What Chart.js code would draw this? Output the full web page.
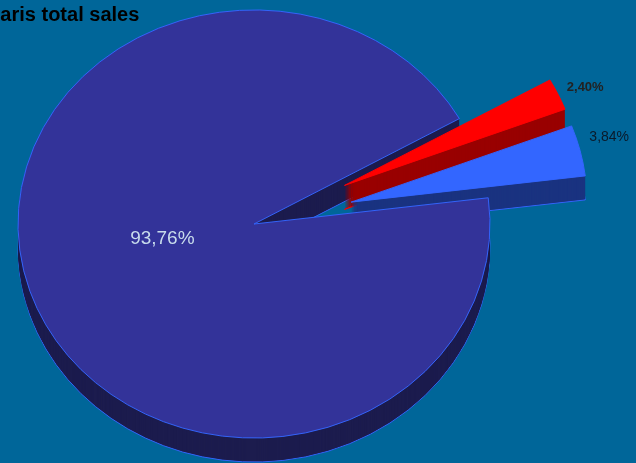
<!DOCTYPE html>
<html>
<head>
<meta charset="utf-8">
<script src="https://cdn.jsdelivr.net/npm/chart.js@4/dist/chart.umd.min.js"></script>
<style>
  html, body { margin: 0; padding: 0; background: #006699; }
  #wrap { width: 636px; height: 463px; position: relative; }
</style>
</head>
<body>
<div id="wrap"><canvas id="c" width="636" height="463"></canvas></div>
<script>
const chartTitle = 'Paris total sales';
const categories = ['B', 'C', 'A'];
const salesShare = [2.40, 3.84, 93.76];
const valueLabels = ['2,40%', '3,84%', '93,76%'];

const topColors = ['#ff0000', '#3366ff', '#333399'];
const sideColors = ['#990000', '#1a3380', '#1c1c4e'];
const edgeColors = ['#ff0000', '#3366ff', '#3366ff'];
const explode = [100, 100, 0];
const labelShiftY = [5, -7, -12];
const DEPTH = 24;
const SY = 0.907;

const pie3d = {
  id: 'pie3d',
  beforeDatasetsDraw(chart) {
    const ctx = chart.ctx;
    const meta = chart.getDatasetMeta(0);
    const ca = chart.chartArea;
    const cx = (ca.left + ca.right) / 2, cy = (ca.top + ca.bottom) / 2;
    const drawOne = (arc, i, opts, dy) => {
      const mid = (arc.startAngle + arc.endAngle) / 2;
      ctx.save();
      ctx.translate(0, dy);
      ctx.translate(cx, cy); ctx.scale(1, SY); ctx.translate(-cx, -cy);
      ctx.translate(Math.cos(mid) * explode[i], Math.sin(mid) * explode[i]);
      const saved = arc.options;
      if (opts) arc.options = Object.assign({}, saved, opts);
      arc.draw(ctx);
      arc.options = saved;
      ctx.restore();
    };
    for (let dy = DEPTH; dy >= 1; dy--) {
      meta.data.forEach((arc, i) => drawOne(arc, i, {
        backgroundColor: sideColors[i],
        borderColor: dy === DEPTH ? edgeColors[i] : sideColors[i],
        borderWidth: dy === DEPTH ? 1 : 0
      }, dy));
    }
    meta.data.forEach((arc, i) => drawOne(arc, i, null, 0));
    // labels
    meta.data.forEach((arc, i) => {
      const mid = (arc.startAngle + arc.endAngle) / 2;
      const r = i === 2 ? arc.outerRadius * 0.4 : arc.outerRadius + 30;
      const d = r + explode[i];
      const x = cx + Math.cos(mid) * d;
      const y = cy + Math.sin(mid) * d * SY + labelShiftY[i];
      ctx.save();
      ctx.textAlign = 'center';
      ctx.textBaseline = 'middle';
      if (i === 0) { ctx.font = 'bold 13px "Liberation Sans", Arial, sans-serif'; ctx.fillStyle = '#222222'; }
      else if (i === 1) { ctx.font = '14px "Liberation Sans", Arial, sans-serif'; ctx.fillStyle = '#0a1a2a'; }
      else { ctx.font = '19px "Liberation Sans", Arial, sans-serif'; ctx.fillStyle = '#c8dcec'; }
      ctx.fillText(valueLabels[i], x - (i === 2 ? 2 : 0), y);
      ctx.restore();
    });
    return false;
  },
  afterDraw(chart) {
    const ctx = chart.ctx;
    ctx.save();
    ctx.font = 'bold 20px "Liberation Sans", Arial, sans-serif';
    ctx.fillStyle = '#000000';
    ctx.textBaseline = 'alphabetic';
    ctx.textAlign = 'left';
    ctx.fillText(chartTitle, -13, 21);
    ctx.restore();
  }
};

new Chart(document.getElementById('c'), {
  type: 'pie',
  data: {
    labels: categories,
    datasets: [{
      data: salesShare,
      backgroundColor: topColors,
      borderColor: edgeColors,
      borderWidth: 1
    }]
  },
  options: {
    responsive: false,
    animation: false,
    rotation: 60.5,
    radius: 236,
    layout: { padding: { left: 0, right: 128, top: 0, bottom: 15 } },
    plugins: {
      legend: { display: false },
      tooltip: { enabled: false },
      title: { display: false }
    }
  },
  plugins: [pie3d]
});
</script>
</body>
</html>
